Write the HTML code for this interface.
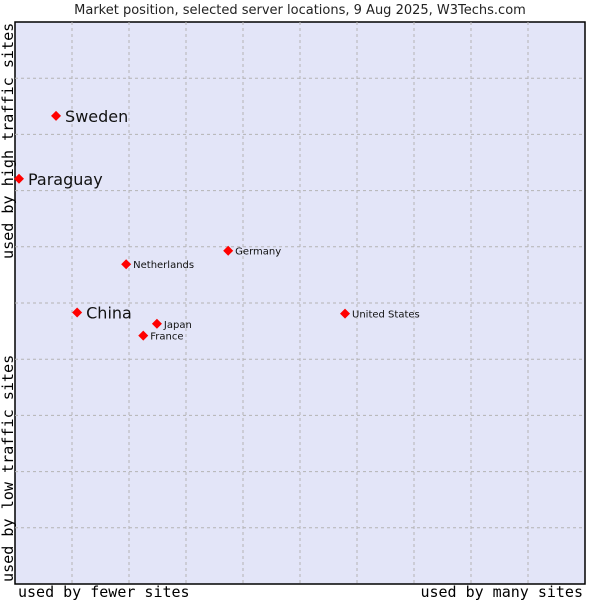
<!DOCTYPE html>
<html><head><meta charset="utf-8"><style>
body{margin:0;background:#fff;}
svg{display:block;}
</style></head><body>
<svg id="chart" width="600" height="600" xmlns="http://www.w3.org/2000/svg">
<text x="300" y="14" text-anchor="middle" font-family="DejaVu Sans, sans-serif" font-size="13" fill="#222">Market position, selected server locations, 9 Aug 2025, W3Techs.com</text>
<rect x="15" y="22" width="570" height="562" fill="#e3e5f8" stroke="#000" stroke-width="1.5"/>
<g id="grid"></g>
<g id="points"></g>
<text x="18" y="597" font-family="DejaVu Sans Mono, monospace" font-size="15" fill="#000">used by fewer sites</text>
<text x="583" y="597" text-anchor="end" font-family="DejaVu Sans Mono, monospace" font-size="15" fill="#000">used by many sites</text>
<text transform="translate(13,259) rotate(-90)" font-family="DejaVu Sans Mono, monospace" font-size="15.1" fill="#000">used by high traffic sites</text>
<text transform="translate(13,582) rotate(-90)" font-family="DejaVu Sans Mono, monospace" font-size="15.1" fill="#000">used by low traffic sites</text>
</svg>
<script>
const countries = ["Sweden","Paraguay","China","Netherlands","Germany","United States","Japan","France"];
const xValues = [7.2,0.7,10.9,19.5,37.4,57.9,24.9,22.5];
const yValues = [83.3,72.1,48.3,56.9,59.3,48.1,46.3,44.2];
const bigLabel = [true,true,true,false,false,false,false,false];
const NS="http://www.w3.org/2000/svg";
const L=15,T=22,W=570,H=562;
const sx=v=>L+v/100*W, sy=v=>T+H-v/100*H;
const grid=document.getElementById('grid');
for(let k=1;k<10;k++){
  const gx=L+W*k/10;
  const l=document.createElementNS(NS,'line');
  l.setAttribute('x1',gx);l.setAttribute('x2',gx);l.setAttribute('y1',T);l.setAttribute('y2',T+H);
  l.setAttribute('stroke','#b4b4b4');l.setAttribute('stroke-dasharray','3,3');
  
  
  grid.appendChild(l);
  const gy=T+H*k/10;
  const h=document.createElementNS(NS,'line');
  h.setAttribute('x1',L);h.setAttribute('x2',L+W);h.setAttribute('y1',gy);h.setAttribute('y2',gy);
  h.setAttribute('stroke','#b4b4b4');h.setAttribute('stroke-dasharray','3,3');
  
  
  grid.appendChild(h);
}
const pts=document.getElementById('points');
countries.forEach((c,i)=>{
  const x=sx(xValues[i]), y=sy(yValues[i]);
  const p=document.createElementNS(NS,'polygon');
  const r=5;
  p.setAttribute('points',`${x},${y-r} ${x+r},${y} ${x},${y+r} ${x-r},${y}`);
  p.setAttribute('fill','#f00');
  
  
  pts.appendChild(p);
  const t=document.createElementNS(NS,'text');
  t.setAttribute('x',x+(bigLabel[i]?9:7));
  t.setAttribute('y',y+(bigLabel[i]?6:4));
  t.setAttribute('font-family','DejaVu Sans, sans-serif');
  t.setAttribute('font-size',bigLabel[i]?'16':'10');
  t.setAttribute('fill','#111');
  t.textContent=c;
  
  
  pts.appendChild(t);
});
</script>
</body></html>
